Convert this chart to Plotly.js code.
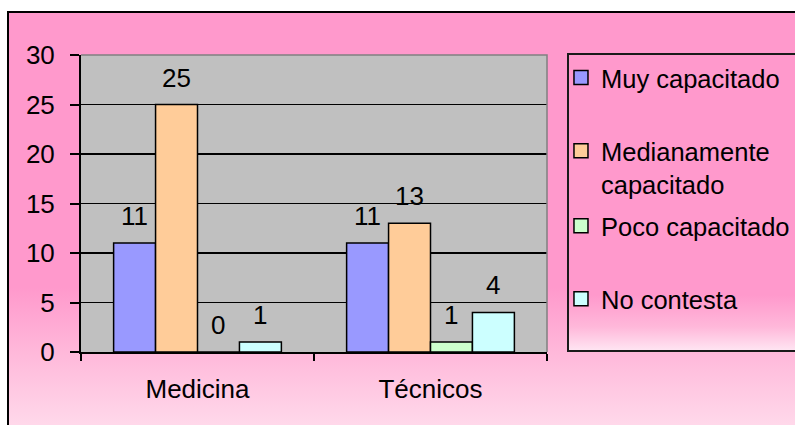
<!DOCTYPE html>
<html>
<head>
<meta charset="utf-8">
<script src="https://cdn.plot.ly/plotly-3.0.1.min.js"></script>
<style>
  html, body { margin: 0; padding: 0; width: 795px; height: 425px; overflow: hidden; background: #ffffff; }
  #frame { position: absolute; left: 7px; top: 11px; width: 900px; height: 500px; border: 2px solid #000;
           background: linear-gradient(to bottom, #FF99CC 0px, #FF99CC 275px, #FFB8DA 339px, #FFD8EA 411px, #FFE0EE 500px); }
  #legbox { position: absolute; left: 567px; top: 53px; width: 300px; height: 295px; border: 2px solid #1a1a1a;
            background: linear-gradient(to bottom, #FF99CC 0px, #FF99CC 240px, #FFB8DA 272px, #FFE4F2 295px); }
  #chart { position: absolute; left: 0; top: 0; width: 795px; height: 425px; }
</style>
</head>
<body>
<div id="frame"></div>
<div id="legbox"></div>
<div id="chart"></div>
<script>
const categories = ['Medicina', 'Técnicos'];
const seriesNames = ['Muy capacitado', 'Medianamente<br>capacitado', 'Poco capacitado', 'No contesta'];
const muyCapacitado = [11, 11];
const medianamenteCapacitado = [25, 13];
const pocoCapacitado = [0, 1];
const noContesta = [1, 4];
const seriesValues = [muyCapacitado, medianamenteCapacitado, pocoCapacitado, noContesta];
const seriesColors = ['#9999FF', '#FFCC99', '#CCFFCC', '#CCFFFF'];
const yTicks = [0, 5, 10, 15, 20, 25, 30];

const FONT = '"Liberation Sans", Arial, sans-serif';
const FS = 26;
const LEG_FS = 25.5;
const bargap = 0.28;
const legendIds = ['legend', 'legend2', 'legend3', 'legend4'];
const legendY = [0.9226, 0.621, 0.424, 0.178];

const traces = seriesValues.map((vals, i) => ({
  type: 'bar',
  name: seriesNames[i],
  x: categories,
  y: vals,
  marker: { color: seriesColors[i], line: { color: '#000', width: 1.5 } },
  showlegend: false,
  hoverinfo: 'none'
}));
// legend-only entries (square keys like the original)
seriesNames.forEach((name, i) => {
  traces.push({
    type: 'scatter', mode: 'markers', name: name,
    x: [null], y: [null],
    marker: { symbol: 'square', size: 14, color: seriesColors[i], line: { color: '#000', width: 1.5 } },
    legend: legendIds[i], showlegend: true, hoverinfo: 'none'
  });
});

const w = (1 - bargap) / seriesValues.length;
const annotations = [];
seriesValues.forEach((vals, i) => {
  vals.forEach((v, j) => {
    annotations.push({
      x: j + (i - (seriesValues.length - 1) / 2) * w,
      y: v, xref: 'x', yref: 'y',
      text: String(v), showarrow: false,
      yanchor: 'middle', xanchor: 'center', yshift: 27,
      font: { family: FONT, size: FS, color: '#000' }
    });
  });
});

const layout = {
  width: 795, height: 425,
  margin: { l: 81, r: 248, t: 55, b: 73, pad: 0, autoexpand: false },
  paper_bgcolor: 'rgba(0,0,0,0)',
  plot_bgcolor: '#C0C0C0',
  font: { family: FONT, size: FS, color: '#000' },
  barmode: 'group', bargap: bargap, bargroupgap: 0,
  showlegend: true,
  xaxis: {
    type: 'category', range: [-0.5, 1.5],
    showline: true, linecolor: '#000', linewidth: 2,
    ticks: 'outside', tickson: 'boundaries', ticklen: 7, tickwidth: 2, tickcolor: '#000',
    showgrid: false, ticklabelstandoff: 13,
    tickfont: { family: FONT, size: FS, color: '#000' }
  },
  yaxis: {
    range: [0, 30], tickvals: yTicks, ticktext: yTicks.map(String),
    showline: true, linecolor: '#000', linewidth: 2,
    ticks: 'outside', ticklen: 9, tickwidth: 2, tickcolor: '#000',
    showgrid: true, gridcolor: '#000', gridwidth: 1.2, zeroline: false,
    ticklabelstandoff: 10,
    tickfont: { family: FONT, size: FS, color: '#000' }
  },
  shapes: [{
    type: 'path', xref: 'paper', yref: 'paper', path: 'M0,1 L1,1 L1,0',
    line: { color: '#808080', width: 1.5 }, layer: 'above'
  }],
  annotations: annotations
};
legendIds.forEach((id, i) => {
  layout[id] = {
    x: 1.030, xanchor: 'left', y: legendY[i], yanchor: 'middle',
    bgcolor: 'rgba(0,0,0,0)', borderwidth: 0, valign: 'top',
    font: { family: FONT, size: LEG_FS, color: '#000' }
  };
});

Plotly.newPlot('chart', traces, layout, { staticPlot: true, displayModeBar: false });
</script>
</body>
</html>
